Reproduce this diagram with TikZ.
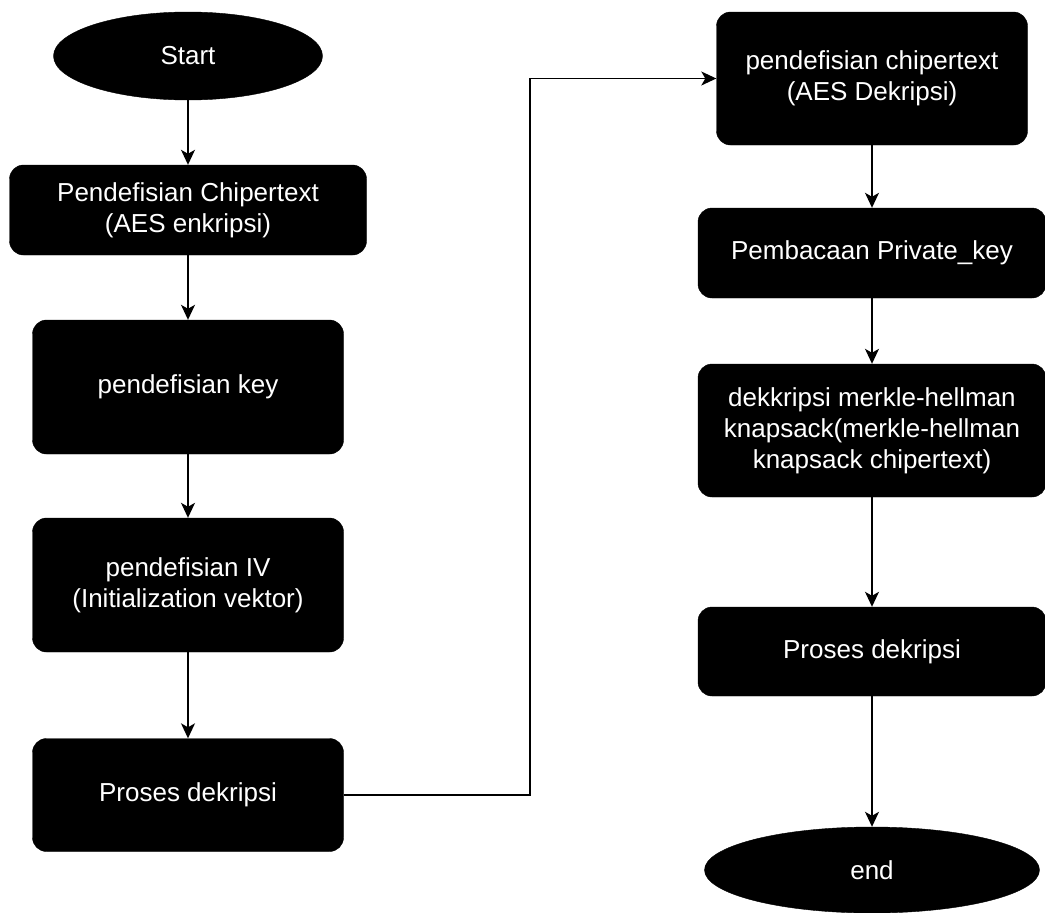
\documentclass[tikz,border=0pt]{standalone}
\usepackage{fontspec}
\setmainfont{Liberation Sans}
\usetikzlibrary{shapes.geometric,arrows.meta}

\tikzset{
  procbox/.style={draw=black, fill=black, text=white, rounded corners=14pt,
    inner sep=0pt, align=center, font=\fontsize{26}{31}\selectfont},
  terminal/.style={draw=black, fill=black, text=white, ellipse,
    inner sep=0pt, align=center, font=\fontsize{26}{31}\selectfont},
  flow/.style={line width=1.5pt, -{Stealth[length=15pt,width=14pt,inset=4pt]}}
}

\begin{document}
\begin{tikzpicture}[x=1pt,y=-1pt]
  \useasboundingbox (0,0) rectangle (1045,913);

  % left column: encryption side
  \node[terminal, minimum width=269pt, minimum height=88pt] (start) at (188,56) {Start};
  \node[procbox, minimum width=357pt, minimum height=90pt] (enc) at (188,210)
    {Pendefisian Chipertext\\(AES enkripsi)};
  \node[procbox, minimum width=311pt, minimum height=134pt] (key) at (188,387)
    {pendefisian key};
  \node[procbox, minimum width=311pt, minimum height=134pt] (iv) at (188,585)
    {pendefisian IV\\(Initialization vektor)};
  \node[procbox, minimum width=311pt, minimum height=113pt] (pd1) at (188,795)
    {Proses dekripsi};

  % right column: decryption side
  \node[procbox, minimum width=311pt, minimum height=133pt] (dec) at (872,78.5)
    {pendefisian chipertext\\(AES Dekripsi)};
  \node[procbox, minimum width=348pt, minimum height=90pt] (pk) at (872,253)
    {Pembacaan Private\_key};
  \node[procbox, minimum width=348pt, minimum height=133pt] (mh) at (872,430.5)
    {dekkripsi merkle-hellman\\knapsack(merkle-hellman\\knapsack chipertext)};
  \node[procbox, minimum width=348pt, minimum height=89pt] (pd2) at (872,651.5)
    {Proses dekripsi};
  \node[terminal, minimum width=335pt, minimum height=86pt] (end) at (872,870) {end};

  % connectors
  \draw[flow] (start) -- (enc);
  \draw[flow] (enc) -- (key);
  \draw[flow] (key) -- (iv);
  \draw[flow] (iv) -- (pd1);
  \draw[flow] (pd1.east) -- ++(186.5,0) |- (dec.west);
  \draw[flow] (dec) -- (pk);
  \draw[flow] (pk) -- (mh);
  \draw[flow] (mh) -- (pd2);
  \draw[flow] (pd2) -- (end);
\end{tikzpicture}
\end{document}
